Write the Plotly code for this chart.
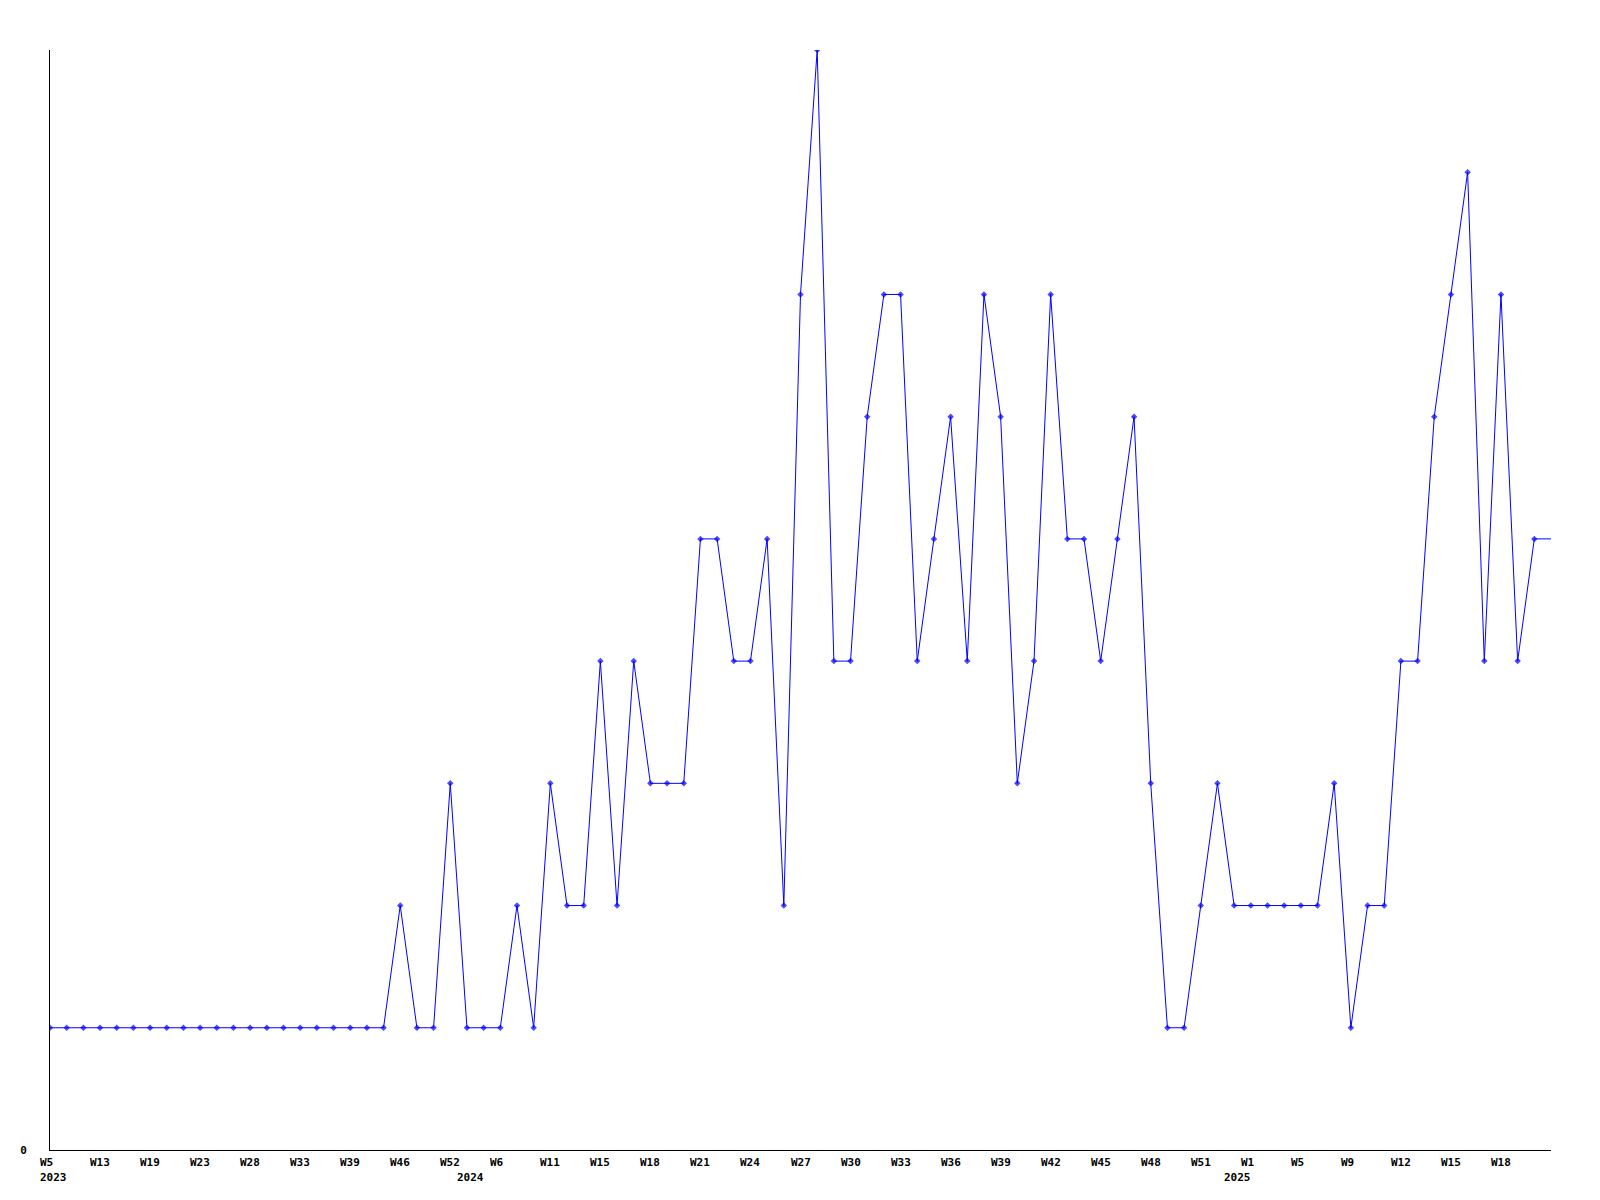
import plotly.graph_objects as go

# Weekly values (last value is the line extension to the axis end, drawn without marker)
values = [1, 1, 1, 1, 1, 1, 1, 1, 1, 1,
          1, 1, 1, 1, 1, 1, 1, 1, 1, 1,
          1, 2, 1, 1, 3, 1, 1, 1, 2, 1,
          3, 2, 2, 4, 2, 4, 3, 3, 3, 5,
          5, 4, 4, 5, 2, 7, 9, 4, 4, 6,
          7, 7, 4, 5, 6, 4, 7, 6, 3, 4,
          7, 5, 5, 4, 5, 6, 3, 1, 1, 2,
          3, 2, 2, 2, 2, 2, 2, 3, 1, 2,
          2, 4, 4, 6, 7, 8, 4, 7, 4, 5,
          5]

tick_idx = [0, 3, 6, 9, 12, 15, 18, 21, 24, 27, 30, 33, 36, 39, 42, 45,
            48, 51, 54, 57, 60, 63, 66, 69, 72, 75, 78, 81, 84, 87]
tick_labels = ["W5", "W13", "W19", "W23", "W28", "W33", "W39", "W46", "W52", "W6",
               "W11", "W15", "W18", "W21", "W24", "W27", "W30", "W33", "W36", "W39",
               "W42", "W45", "W48", "W51", "W1", "W5", "W9", "W12", "W15", "W18"]
year_idx = [0, 25, 71]
year_labels = ["2023", "2024", "2025"]

x = list(range(len(values)))
sizes = [5] * (len(values) - 1) + [0]

fig = go.Figure()
fig.add_trace(go.Scatter(
    x=x, y=values, mode="lines+markers",
    line=dict(color="#0000ff", width=1),
    marker=dict(symbol="diamond", size=sizes, color="#0000ff", line=dict(width=0)),
    hoverinfo="skip", showlegend=False,
))

font = dict(family="DejaVu Sans Mono", size=11, color="black", weight="bold")

annotations = []
for i, t in zip(tick_idx, tick_labels):
    annotations.append(dict(x=i, y=0, xref="x", yref="y", text=t, showarrow=False,
                            xanchor="left", yanchor="top", xshift=-12, yshift=-4,
                            font=font))
for i, t in zip(year_idx, year_labels):
    annotations.append(dict(x=i, y=0, xref="x", yref="y", text=t, showarrow=False,
                            xanchor="left", yanchor="top", xshift=-12, yshift=-19,
                            font=font))

fig.update_layout(
    width=1592, height=1192,
    margin=dict(l=42, r=49, t=42, b=50),
    plot_bgcolor="white", paper_bgcolor="white",
    annotations=annotations,
    xaxis=dict(range=[0, len(values) - 1], showgrid=False, zeroline=False,
               showline=True, linecolor="black", linewidth=1,
               showticklabels=False, ticks=""),
    yaxis=dict(range=[0, 9], showgrid=False, zeroline=False,
               showline=True, linecolor="black", linewidth=1,
               tickvals=[0], ticktext=["0"], ticks="",
               ticklabelstandoff=20, tickfont=font),
)

fig.write_html("out.html")
